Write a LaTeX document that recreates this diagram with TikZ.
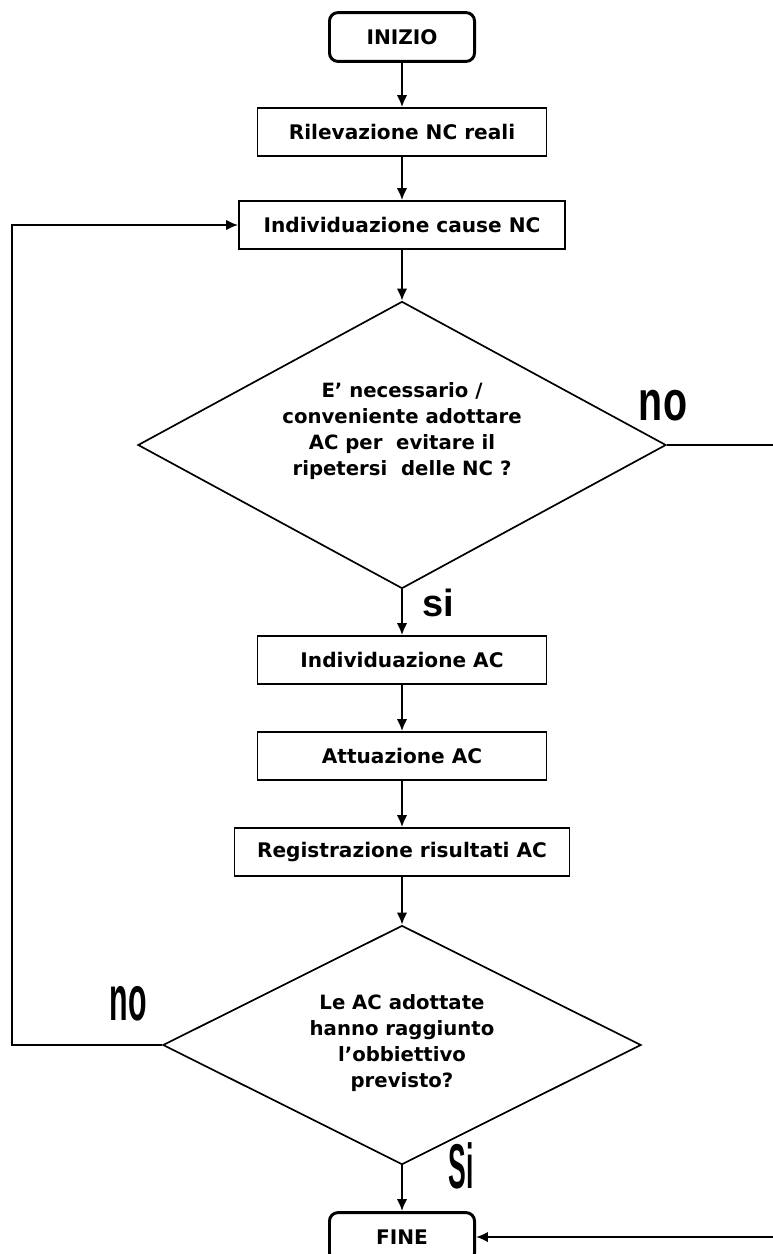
\documentclass[tikz,border=0pt]{standalone}
\usepackage{fontspec}
\usepackage{graphicx}
\setmainfont{DejaVu Sans}
\newfontfamily\labelfont{Liberation Sans}
\usetikzlibrary{shapes.geometric,arrows.meta}

\tikzset{
  box/.style={draw, line width=1.2pt, minimum height=1.2cm, inner sep=0pt,
    font=\fontsize{14.3}{16}\bfseries},
  terminal/.style={draw, line width=2.1pt, rounded corners=6pt,
    minimum width=3.625cm, minimum height=1.22cm, inner sep=0pt,
    font=\fontsize{14.3}{16}\bfseries},
  decision/.style={draw, diamond, aspect=2, line width=1.2pt, inner sep=0pt},
  dtext/.style={align=center, font=\fontsize{14}{18.5}\bfseries},
  answer/.style={inner sep=0pt, font=\labelfont\bfseries},
  flow/.style={->, line width=1.5pt},
}

\begin{document}
\begin{tikzpicture}[x=0.025cm, y=-0.025cm, >={Latex[length=8.5pt,width=7.5pt]}]
\useasboundingbox (0,0) rectangle (773,1254);
\clip (0,0) rectangle (773,1254);

% the main column of steps
\node[terminal] (start) at (402,37) {INIZIO};
\node[box, minimum width=7.225cm] (ril) at (402,132) {Rilevazione NC reali};
\node[box, minimum width=8.15cm] (cause) at (402,225) {Individuazione cause NC};
\node[decision, minimum width=13.2cm, minimum height=7.175cm] (dec1) at (402,445) {};
\node[dtext] (dec1txt) at (402,431)
  {E’ necessario /\\conveniente adottare\\AC per\ \ evitare il\\ripetersi\ \ delle NC ?};
\node[box, minimum width=7.225cm] (indac) at (402,660) {Individuazione AC};
\node[box, minimum width=7.225cm] (att) at (402,756) {Attuazione AC};
\node[box, minimum width=8.375cm] (reg) at (402,852) {Registrazione risultati AC};
\node[decision, minimum width=11.95cm, minimum height=5.975cm] (dec2) at (402,1045) {};
\node[dtext] (dec2txt) at (402,1043)
  {Le AC adottate\\hanno raggiunto\\l’obbiettivo\\previsto?};
\node[terminal] (fine) at (402,1237) {FINE};

% the answers
\node[answer] (no1) at (663,406) {\fontsize{40}{40}\selectfont\scalebox{0.7}[1]{no}};
\node[answer] (si1) at (438,603) {\fontsize{27}{27}\selectfont si};
\node[answer] (no2) at (128,1004) {\fontsize{45}{45}\selectfont\scalebox{0.48}[1]{no}};
\node[answer] (si2) at (461,1166) {\fontsize{45}{45}\selectfont\scalebox{0.42}[1]{Si}};

% straight arrows down the column
\foreach \a/\b in {start/ril, ril/cause, cause/dec1, dec1/indac, indac/att, att/reg, reg/dec2, dec2/fine}
  \draw[flow] (\a) -- (\b);

% back to the causes when the AC failed
\draw[flow] (dec2.west) -- (12,1045) |- (cause.west);

% no AC needed: straight to the end
\draw[flow] (dec1.east) -- (790,445) |- (fine.east);
\end{tikzpicture}
\end{document}
